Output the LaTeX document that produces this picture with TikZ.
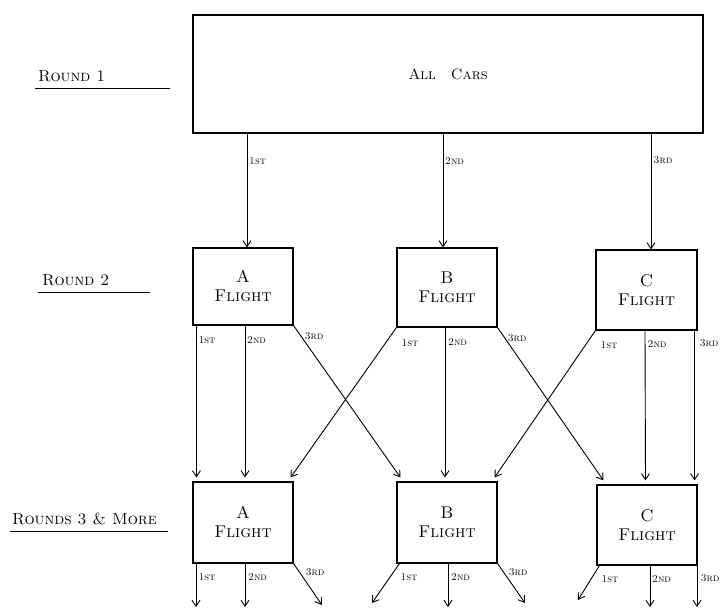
\documentclass[tikz,border=0pt]{standalone}
\usetikzlibrary{arrows.meta,calc}
\begin{document}
\begin{tikzpicture}[x=1pt,y=-1pt,
  box/.style={draw, line width=1.2pt, inner sep=0pt},
  flow/.style={-{Straight Barb[length=6pt,width=8pt]}, line width=0.9pt},
  lab/.style={font=\fontsize{10.5}{10.5}\selectfont\scshape, anchor=west, inner sep=1pt},
  rnd/.style={font=\fontsize{16}{16}\selectfont\scshape, anchor=base west, inner sep=0pt},
  fl/.style={box, align=center, font=\fontsize{17}{19}\selectfont\scshape},
  uline/.style={line width=1pt}]
\useasboundingbox (0,0) rectangle (724,611);

% round labels
\node[rnd] (r1) at (38,81) {Round 1};
\draw[uline] (35,88) -- (170,88);
\node[rnd] (r2) at (42,285) {Round 2};
\draw[uline] (38,292) -- (150,292);
\node[rnd] (r3) at (12,524) {Rounds 3 \& More};
\draw[uline] (10,531) -- (168,531);

% boxes
\node[box, minimum width=510, minimum height=118,
      font=\fontsize{15}{15}\selectfont\scshape] (top) at (448,74) {All\quad Cars};
\node[fl, minimum width=100, minimum height=77] (A2) at (243,286.5) {A\\Flight};
\node[fl, minimum width=100, minimum height=79] (B2) at (447,287.5) {B\\Flight};
\node[fl, minimum width=101, minimum height=80] (C2) at (646.5,290) {C\\Flight};
\node[fl, minimum width=100, minimum height=81] (A3) at (243,522.5) {A\\Flight};
\node[fl, minimum width=100, minimum height=81] (B3) at (447,522.5) {B\\Flight};
\node[fl, minimum width=100, minimum height=80] (C3) at (647,525) {C\\Flight};

% round 1 -> round 2
\draw[flow] ($(top.south -| A2.north)+(4,0)$) -- ($(A2.north)+(4,0)$);
\draw[flow] ($(top.south -| B2.north)+(-4,0)$) -- ($(B2.north)+(-4,0)$);
\draw[flow] ($(top.south -| C2.north)+(4.5,0)$) -- ($(C2.north)+(4.5,0)$);
\node[lab] (t1) at ($(top.south -| A2.north)+(5,27)$) {1st};
\node[lab] (t2) at ($(top.south -| B2.north)+(-3,27)$) {2nd};
\node[lab] (t3) at ($(top.south -| C2.north)+(6,27)$) {3rd};

% round 2 -> round 3
\draw[flow] ($(A2.south west)+(4,0)$) -- ($(A3.north west)+(4,-4)$);
\draw[flow] ($(A2.south)+(2,0)$) -- ($(A3.north)+(2,-4)$);
\draw[flow] (A2.south east) -- ($(B3.north west)+(4,-4)$);
\draw[flow] (B2.south west) -- ($(A3.north east)+(-3,-4)$);
\draw[flow] ($(B2.south)+(-2,0)$) -- ($(B3.north)+(-2,-4)$);
\draw[flow] (B2.south east) -- ($(C3.north west)+(7,-4)$);
\draw[flow] (C2.south west) -- ($(B3.north east)+(-3,-4)$);
\draw[flow] ($(C2.south)+(-1.5,0)$) -- ($(C3.north)+(-1.5,-4)$);
\draw[flow] ($(C2.south east)+(-3,0)$) -- ($(C3.north east)+(-3,-4)$);

\node[lab] (a21) at ($(A2.south west)+(5,14)$) {1st};
\node[lab] (a22) at ($(A2.south)+(3,14)$) {2nd};
\node[lab] (a23) at ($(A2.south east)+(10,11)$) {3rd};
\node[lab] (b21) at ($(B2.south west)+(4,15)$) {1st};
\node[lab] (b22) at ($(B2.south)+(0,14)$) {2nd};
\node[lab] (b23) at ($(B2.south east)+(9,11)$) {3rd};
\node[lab] (c21) at ($(C2.south west)+(4,14)$) {1st};
\node[lab] (c22) at ($(C2.south)+(0,13)$) {2nd};
\node[lab] (c23) at ($(C2.south east)+(1,13)$) {3rd};

% round 3 outgoing
\coordinate (ea1) at (196,607);
\coordinate (ea2) at (245,607);
\coordinate (ea3) at (322,605);
\coordinate (eb1) at (372,603);
\coordinate (eb2) at (448,607);
\coordinate (eb3) at (525,603);
\coordinate (ec1) at (578,600);
\coordinate (ec2) at (650,607);
\coordinate (ec3) at (697,607);
\draw[flow] (A3.south west -| ea1) -- (ea1);
\draw[flow] (A3.south -| ea2) -- (ea2);
\draw[flow] (A3.south east) -- (ea3);
\draw[flow] ($(B3.south west)+(3,0)$) -- (eb1);
\draw[flow] (B3.south -| eb2) -- (eb2);
\draw[flow] (B3.south east) -- (eb3);
\draw[flow] ($(C3.south west)+(3,0)$) -- (ec1);
\draw[flow] (C3.south -| ec2) -- (ec2);
\draw[flow] (C3.south east -| ec3) -- (ec3);

\node[lab] (a31) at ($(A3.south west)+(5,13)$) {1st};
\node[lab] (a32) at ($(A3.south)+(4,13)$) {2nd};
\node[lab] (a33) at ($(A3.south east)+(11,9)$) {3rd};
\node[lab] (b31) at ($(B3.south west)+(3,13)$) {1st};
\node[lab] (b32) at ($(B3.south)+(3,13)$) {2nd};
\node[lab] (b33) at ($(B3.south east)+(10,9)$) {3rd};
\node[lab] (c31) at ($(C3.south west)+(4,13)$) {1st};
\node[lab] (c32) at ($(C3.south)+(4,13)$) {2nd};
\node[lab] (c33) at ($(C3.south east)+(2,13)$) {3rd};
\end{tikzpicture}
\end{document}
